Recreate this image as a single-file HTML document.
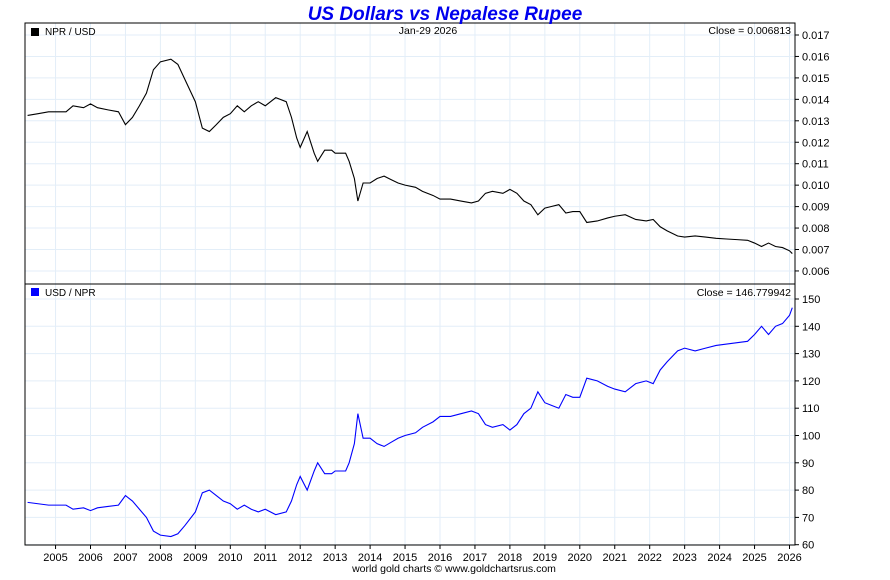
<!DOCTYPE html>
<html><head><meta charset="utf-8"><style>
body{margin:0;background:#fff;width:890px;height:575px;overflow:hidden}
svg text{font-family:"Liberation Sans",sans-serif}
</style></head><body>
<svg id="c" width="890" height="575" xmlns="http://www.w3.org/2000/svg"></svg>
<script>
const years=[2004.2,2004.5,2004.8,2005.0,2005.3,2005.5,2005.8,2006.0,2006.2,2006.5,2006.8,2007.0,2007.2,2007.4,2007.6,2007.8,2008.0,2008.3,2008.5,2008.7,2009.0,2009.2,2009.4,2009.6,2009.8,2010.0,2010.2,2010.4,2010.6,2010.8,2011.0,2011.3,2011.6,2011.75,2011.9,2012.0,2012.2,2012.4,2012.5,2012.7,2012.9,2013.0,2013.3,2013.4,2013.55,2013.65,2013.8,2014.0,2014.2,2014.4,2014.6,2014.8,2015.0,2015.3,2015.5,2015.8,2016.0,2016.3,2016.6,2016.9,2017.1,2017.3,2017.5,2017.8,2018.0,2018.2,2018.4,2018.6,2018.8,2019.0,2019.2,2019.4,2019.6,2019.8,2020.0,2020.2,2020.5,2020.8,2021.0,2021.3,2021.6,2021.9,2022.1,2022.3,2022.5,2022.8,2023.0,2023.3,2023.6,2023.9,2024.2,2024.5,2024.8,2025.0,2025.2,2025.4,2025.6,2025.8,2026.0,2026.08];
const usdNpr=[75.5,75,74.5,74.5,74.5,73,73.5,72.5,73.5,74,74.5,78,76,73,70,65,63.5,63,64,67,72,79,80,78,76,75,73,74.5,73,72,73,71,72,76,82,85,80,87,90,86,86,87,87,90,97,108,99,99,97,96,97.5,99,100,101,103,105,107,107,108,109,108,104,103,104,102,104,108,110,116,112,111,110,115,114,114,121,120,118,117,116,119,120,119,124,127,131,132,131,132,133,133.5,134,134.5,137,140,137,140,141,144,146.8];
const nprUsd=[.01325,.01333,.01342,.01342,.01342,.01370,.01361,.01379,.01361,.01351,.01342,.01282,.01316,.01370,.01429,.01538,.01575,.01587,.01563,.01493,.01389,.01266,.01250,.01282,.01316,.01333,.01370,.01342,.01370,.01389,.01370,.01408,.01389,.01316,.01220,.01176,.01250,.01149,.01111,.01163,.01163,.01149,.01149,.01111,.01031,.00926,.01010,.01010,.01031,.01042,.01026,.01010,.01000,.00990,.00971,.00952,.00935,.00935,.00926,.00917,.00926,.00962,.00971,.00962,.00980,.00962,.00926,.00909,.00862,.00893,.00901,.00909,.00870,.00877,.00877,.00826,.00833,.00847,.00855,.00862,.00840,.00833,.00840,.00806,.00787,.00763,.00758,.00763,.00758,.00752,.00749,.00746,.00743,.00730,.00714,.00730,.00714,.00709,.00694,.00681];
const yearTicks=[2005,2006,2007,2008,2009,2010,2011,2012,2013,2014,2015,2016,2017,2018,2019,2020,2021,2022,2023,2024,2025,2026];
const topTicks=[0.006,0.007,0.008,0.009,0.010,0.011,0.012,0.013,0.014,0.015,0.016,0.017];
const botTicks=[60,70,80,90,100,110,120,130,140,150];

const L=25,R=795,T=23,M=284,B=545;
const xs=y=>789.5+(y-2026)*34.95;
const yTop=v=>35+(0.017-v)*21450;
const yBot=v=>544.7-(v-60)*2.73;
const svg=document.getElementById('c');
const NS='http://www.w3.org/2000/svg';
function mk(tag,attrs,parent){const e=document.createElementNS(NS,tag);for(const k in attrs)e.setAttribute(k,attrs[k]);(parent||svg).appendChild(e);return e;}
function txt(x,y,s,attrs){const e=mk('text',Object.assign({x:x,y:y,'font-size':11,fill:'#000'},attrs||{}));e.textContent=s;return e;}

yearTicks.forEach(yr=>{
  const g=mk('line',{x1:xs(yr),x2:xs(yr),y1:T,y2:B,stroke:'#e3eef8'});
  
  
  const t=txt(xs(yr),561,String(yr),{'text-anchor':'middle'});
  
  
  mk('line',{x1:xs(yr),x2:xs(yr),y1:B,y2:B+4,stroke:'#000'});
});
topTicks.forEach(v=>{
  const y=yTop(v);
  mk('line',{x1:L,x2:R,y1:y,y2:y,stroke:'#e3eef8'});
  mk('line',{x1:R,x2:R+4,y1:y,y2:y,stroke:'#000'});
  const t=txt(R+7,y+4,v.toFixed(3));
  
  
});
botTicks.forEach(v=>{
  const y=yBot(v);
  mk('line',{x1:L,x2:R,y1:y,y2:y,stroke:'#e3eef8'});
  mk('line',{x1:R,x2:R+4,y1:y,y2:y,stroke:'#000'});
  const t=txt(R+7,y+4,String(v));
  
  
});

const p1=mk('polyline',{points:years.map((y,i)=>xs(y)+','+yTop(nprUsd[i])).join(' '),fill:'none',stroke:'#000','stroke-width':1.1});


const p2=mk('polyline',{points:years.map((y,i)=>xs(y)+','+yBot(usdNpr[i])).join(' '),fill:'none',stroke:'#0000ff','stroke-width':1.1});



mk('rect',{x:L,y:T,width:R-L,height:B-T,fill:'none',stroke:'#000'});
mk('line',{x1:L,x2:R,y1:M,y2:M,stroke:'#000'});

const ti=txt(445,20,'US Dollars vs Nepalese Rupee',{'text-anchor':'middle','font-size':19,'font-weight':'bold','font-style':'italic',fill:'#0000ee'});


mk('rect',{x:31,y:28,width:8,height:8,fill:'#000'});
const l1=txt(45,35,'NPR / USD',{'font-size':10});


mk('rect',{x:31,y:288,width:8,height:8,fill:'#0000ff'});
const l2=txt(45,296,'USD / NPR',{'font-size':10});


const d=txt(428,34,'Jan-29  2026',{'text-anchor':'middle','font-size':10.5});


const c1=txt(791,34,'Close = 0.006813',{'text-anchor':'end','font-size':10.5});


const c2=txt(791,296,'Close = 146.779942',{'text-anchor':'end','font-size':10.5});


const f=txt(454,572,'world gold charts © www.goldchartsrus.com',{'text-anchor':'middle','font-size':10.5});


</script>
</body></html>
